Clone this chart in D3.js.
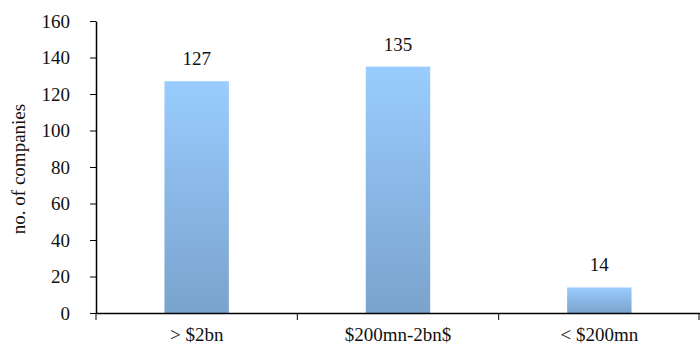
<!DOCTYPE html>
<html><head><meta charset="utf-8">
<script src="https://cdn.jsdelivr.net/npm/d3@7"></script>
<style>body{margin:0;background:#fff}svg{display:block}</style>
</head><body>
<script>
const categories = ["> $2bn", "$200mn-2bn$", "< $200mn"];
const values = [127, 135, 14];
const yTicks = [0, 20, 40, 60, 80, 100, 120, 140, 160];
const yTitle = "no. of companies";

const W = 700, H = 346;
const m = {left: 96, right: 0, top: 21, bottom: 33};
const svg = d3.select("body").append("svg").attr("width", W).attr("height", H);
const defs = svg.append("defs");
const grad = defs.append("linearGradient").attr("id", "bg").attr("x1", 0).attr("y1", 0).attr("x2", 0).attr("y2", 1);
grad.append("stop").attr("offset", "0%").attr("stop-color", "#99ccff");
grad.append("stop").attr("offset", "100%").attr("stop-color", "#7aa3cc");

const x = d3.scaleBand().domain(categories).range([m.left, 700]).paddingInner(0).paddingOuter(0);
const y = d3.scaleLinear().domain([0, 160]).range([H - m.bottom, m.top]);
const font = "'Liberation Serif', 'DejaVu Serif', serif";
const fs = 19;
const bw = x.bandwidth() * 0.32;

svg.selectAll("rect.bar").data(values).enter().append("rect")
  .attr("x", (d, i) => x(categories[i]) + x.bandwidth() / 2 - bw / 2)
  .attr("y", d => y(d)).attr("width", bw).attr("height", d => y(0) - y(d))
  .attr("fill", "url(#bg)");

svg.selectAll("text.val").data(values).enter().append("text")
  .attr("x", (d, i) => x(categories[i]) + x.bandwidth() / 2)
  .attr("y", d => y(d) - 16)
  .attr("text-anchor", "middle").attr("font-family", font).attr("font-size", fs).attr("fill", "#111")
  .text(d => d);

const ya = svg.append("g").attr("transform", `translate(${m.left},0)`)
  .call(d3.axisLeft(y).tickValues(yTicks).tickSize(6).tickPadding(20).tickSizeOuter(0));
ya.select(".domain").attr("stroke", "#000").attr("stroke-width", 1.5);
ya.selectAll(".tick line").attr("stroke", "#000");
ya.selectAll("text").attr("font-family", font).attr("font-size", fs).attr("fill", "#111");

const xa = svg.append("g").attr("transform", `translate(0,${y(0)})`)
  .call(d3.axisBottom(x).tickSize(0).tickSizeOuter(0));
xa.select(".domain").attr("stroke", "#000").attr("stroke-width", 1.5);
xa.selectAll("text").attr("dy", null).attr("y", 28)
  .attr("font-family", font).attr("font-size", fs).attr("fill", "#111");
// boundary ticks
const bounds = categories.map(c => x(c)).concat([699]);
svg.append("g").selectAll("line").data(bounds).enter().append("line")
  .attr("x1", d => d).attr("x2", d => d).attr("y1", y(0)).attr("y2", y(0) + 7)
  .attr("stroke", "#000").attr("stroke-width", 1);

svg.append("text")
  .attr("transform", `translate(25,${(y(0) + y(160)) / 2 + 2}) rotate(-90)`)
  .attr("text-anchor", "middle").attr("font-family", font).attr("font-size", fs).attr("fill", "#111")
  .text(yTitle);
</script>
</body></html>
